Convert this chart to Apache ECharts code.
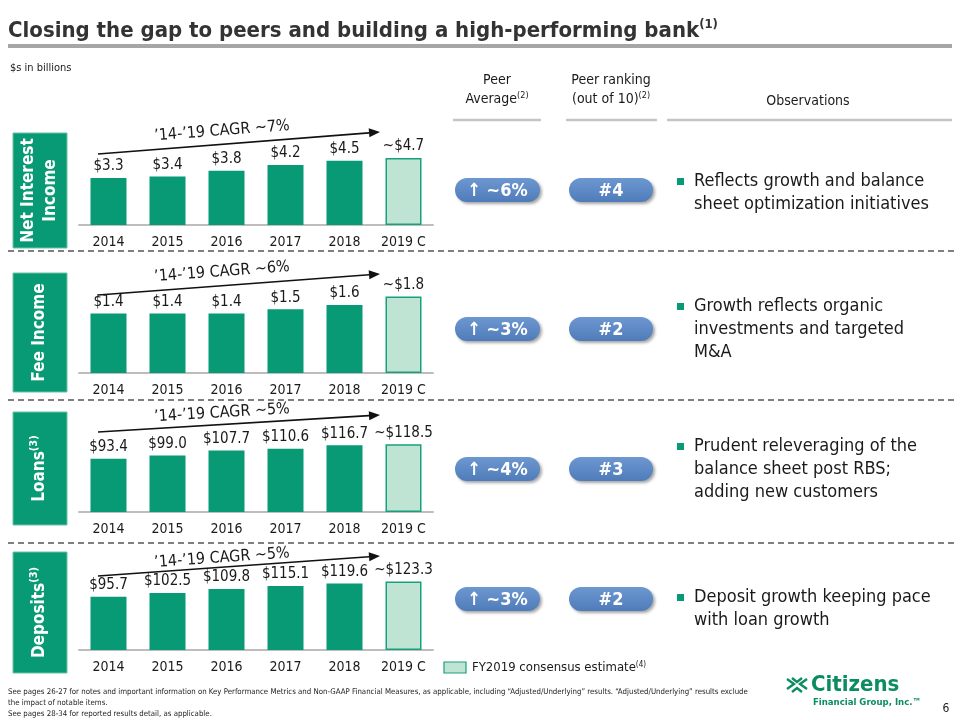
<!DOCTYPE html>
<html><head><meta charset="utf-8">
<script src="https://cdn.jsdelivr.net/npm/echarts@6/dist/echarts.min.js"></script>
<style>html,body{margin:0;padding:0;background:#fff}#c{width:960px;height:720px}</style>
</head><body><div id="c"></div>
<script>
// ---------- DATA ----------
const years = ['2014', '2015', '2016', '2017', '2018', '2019 C'];
const niiValues = [3.3, 3.4, 3.8, 4.2, 4.5, 4.7];
const feeValues = [1.4, 1.4, 1.4, 1.5, 1.6, 1.8];
const loanValues = [93.4, 99.0, 107.7, 110.6, 116.7, 118.5];
const depositValues = [95.7, 102.5, 109.8, 115.1, 119.6, 123.3];
const panelTitles = ['Net Interest\nIncome', 'Fee Income', 'Loans{s|(3)}', 'Deposits{s|(3)}'];
const cagrLabels = ['\u201914-\u201919 CAGR ~7%', '\u201914-\u201919 CAGR ~6%', '\u201914-\u201919 CAGR ~5%', '\u201914-\u201919 CAGR ~5%'];
const peerAverages = ['~6%', '~3%', '~4%', '~3%'];
const peerRanks = ['#4', '#2', '#3', '#2'];
const observations = [
  'Reflects growth and balance\nsheet optimization initiatives',
  'Growth reflects organic\ninvestments and targeted\nM&A',
  'Prudent releveraging of the\nbalance sheet post RBS;\nadding new customers',
  'Deposit growth keeping pace\nwith loan growth'
];
const titleText = 'Closing the gap to peers and building a high-performing bank';
const legendText = 'FY2019 consensus estimate';
const footnotes = [
  'See pages 26-27 for notes and important information on Key Performance Metrics and Non-GAAP Financial Measures, as applicable, including \u201cAdjusted/Underlying\u201d results. \u201cAdjusted/Underlying\u201d results exclude',
  'the impact of notable items.',
  'See pages 28-34 for reported results detail, as applicable.'
];

// ---------- LAYOUT / STYLE ----------
const seriesValues = [niiValues, feeValues, loanValues, depositValues];
const baselines = [225, 373, 512, 650];
const yMaxes = [5.61, 1.88, 140, 144];
const gridH = 80;
const GREEN = '#079a74';
const LIGHT = '#c0e4d4';
const FONT = "'DejaVu Sans Condensed', 'DejaVu Sans', sans-serif";
const boxes = [[133, 248], [273, 392], [412, 525], [552, 673]];
const arrowOff = [[71, 93, 94], [78, 99, 101], [80, 97, 99], [74, 94, 92]];
const pillY = [190, 329, 469, 599];
const obsTop = [170, 295, 435, 586];

const grids = [], xAxes = [], yAxes = [], series = [];
seriesValues.forEach((vals, i) => {
  grids.push({ left: 79, width: 354, top: baselines[i] - gridH, height: gridH });
  xAxes.push({
    type: 'category', gridIndex: i, data: years,
    axisLine: { lineStyle: { color: '#bdbdbd', width: 2 } },
    axisTick: { show: false },
    axisLabel: { margin: 10, fontSize: 14, color: '#1a1a1a', fontFamily: FONT }
  });
  yAxes.push({ type: 'value', gridIndex: i, min: 0, max: yMaxes[i], show: false, splitLine: { show: false } });
  series.push({
    type: 'bar', xAxisIndex: i, yAxisIndex: i, barWidth: 36,
    data: vals.map((v, k) => k === years.length - 1
      ? { value: v, itemStyle: { color: LIGHT, borderColor: '#16a07c', borderWidth: 1.5 } }
      : { value: v }),
    itemStyle: { color: GREEN },
    label: {
      show: true, position: 'top', distance: 4, fontSize: 15, color: '#1a1a1a', fontFamily: FONT,
      formatter: p => (p.dataIndex === years.length - 1 ? '~$' : '$') + p.value.toFixed(1)
    },
    silent: true, animation: false
  });
});

function T(x, y, text, o) {
  o = o || {};
  return {
    type: 'text', x: x, y: y, rotation: o.rotation || 0, silent: true, z: o.z || 10,
    style: {
      text: text, x: 0, y: 0,
      fill: o.fill || '#1a1a1a',
      fontSize: o.size || 14, fontFamily: o.family || FONT, fontWeight: o.weight || 'normal',
      lineHeight: o.lh, align: o.align || 'left', verticalAlign: o.va || 'middle',
      textAlign: o.align || 'left', textVerticalAlign: o.va || 'middle',
      rich: o.rich
    }
  };
}

const g = [];
// Title
g.push(T(8, 31, '{t|' + titleText + '}{s|(1)}', {
  va: 'middle', rich: {
    t: { fontSize: 22, fontWeight: 'bold', fontFamily: FONT, fill: '#333333' },
    s: { fontSize: 13, fontWeight: 'bold', fontFamily: FONT, fill: '#333333', verticalAlign: 'top', padding: [0, 0, 12, 0] }
  }
}));
g.push({ type: 'rect', shape: { x: 8, y: 44, width: 944, height: 4 }, style: { fill: '#a6a6a6' }, silent: true });
g.push(T(10, 68, '$s in billions', { size: 11 }));

// Column headers
const hdrRich = { n: { fontSize: 14, fontFamily: FONT, fill: '#1a1a1a' }, s: { fontSize: 9, fontFamily: FONT, fill: '#1a1a1a', verticalAlign: 'top', padding: [0, 0, 7, 0] } };
g.push(T(497, 80, '{n|Peer}', { align: 'center', rich: hdrRich }));
g.push(T(497, 99, '{n|Average}{s|(2)}', { align: 'center', rich: hdrRich }));
g.push(T(611, 80, '{n|Peer ranking}', { align: 'center', rich: hdrRich }));
g.push(T(611, 99, '{n|(out of 10)}{s|(2)}', { align: 'center', rich: hdrRich }));
g.push(T(808, 101, 'Observations', { align: 'center', size: 14 }));
[[453, 541], [566, 657], [667, 952]].forEach(s => {
  g.push({ type: 'line', shape: { x1: s[0], y1: 120, x2: s[1], y2: 120 }, style: { stroke: '#c4c4c4', lineWidth: 2.5 }, silent: true });
});

// Dashed separators
[251, 400, 543].forEach(y => {
  g.push({ type: 'line', shape: { x1: 8, y1: y, x2: 958, y2: y }, style: { stroke: '#555555', lineWidth: 1.3, lineDash: [6, 4] }, silent: true });
});

const pillGrad = { type: 'linear', x: 0, y: 0, x2: 0, y2: 1, colorStops: [{ offset: 0, color: '#6d97d0' }, { offset: 1, color: '#4f7cb9' }] };
baselines.forEach((B, i) => {
  // left label box
  const b = boxes[i];
  g.push({ type: 'rect', shape: { x: 13, y: b[0], width: 54, height: b[1] - b[0] }, style: { fill: GREEN, stroke: '#6cc3a4', lineWidth: 1 }, silent: true });
  g.push(T(40, (b[0] + b[1]) / 2, panelTitles[i], {
    rotation: Math.PI / 2, align: 'center', va: 'middle', size: 17, weight: 'bold', fill: '#ffffff', lh: 22,
    rich: { s: { fontSize: 11, fontWeight: 'bold', fontFamily: FONT, fill: '#ffffff', verticalAlign: 'top', padding: [0, 0, 8, 0] } }
  }));
  // CAGR arrow
  const a = arrowOff[i];
  const x1 = 98, y1 = B - a[0], x2 = 380, y2 = B - a[1];
  const ang = Math.atan2(y2 - y1, x2 - x1);
  const L = 11, W = 4.5;
  const bx = x2 - L * Math.cos(ang), by = y2 - L * Math.sin(ang);
  g.push({ type: 'line', shape: { x1: x1, y1: y1, x2: bx, y2: by }, style: { stroke: '#111', lineWidth: 1.6 }, silent: true });
  g.push({ type: 'polygon', shape: { points: [[x2, y2], [bx + W * Math.sin(ang), by - W * Math.cos(ang)], [bx - W * Math.sin(ang), by + W * Math.cos(ang)]] }, style: { fill: '#111' }, silent: true });
  g.push(T(222, B - a[2], cagrLabels[i], { align: 'center', size: 16, rotation: -ang }));
  // pills
  const py = pillY[i];
  [[455, 540, '\u2191 ' + peerAverages[i]], [569, 653, peerRanks[i]]].forEach(p => {
    g.push({ type: 'rect', shape: { x: p[0], y: py - 12, width: p[1] - p[0], height: 24, r: 12 },
      style: { fill: pillGrad, shadowBlur: 3, shadowOffsetX: 2, shadowOffsetY: 2, shadowColor: 'rgba(0,0,0,0.35)' }, silent: true });
    g.push(T((p[0] + p[1]) / 2, py + 1, p[2], { align: 'center', size: 18, weight: 'bold', fill: '#ffffff', z: 11 }));
  });
  // observations
  g.push({ type: 'rect', shape: { x: 677, y: obsTop[i] + 8, width: 7, height: 7 }, style: { fill: GREEN }, silent: true });
  g.push(T(694, obsTop[i], observations[i], { va: 'top', size: 18, lh: 23 }));
});

// Legend
g.push({ type: 'rect', shape: { x: 444, y: 662, width: 22, height: 11 }, style: { fill: LIGHT, stroke: '#16a07c', lineWidth: 1.2 }, silent: true });
g.push(T(472, 668, '{n|' + legendText + '}{s|(4)}', {
  rich: { n: { fontSize: 13, fontFamily: FONT, fill: '#1a1a1a' }, s: { fontSize: 8, fontFamily: FONT, fill: '#1a1a1a', verticalAlign: 'top', padding: [0, 0, 6, 0] } }
}));

// Footnotes
footnotes.forEach((t, k) => g.push(T(8, 692 + k * 11, t, { size: 7.8, fill: '#222' })));

// Logo
const LG = '#0b8c62';
const cx = 797, cy = 685;
[[[-10, -6], [-3, -1], [-10, 4]], [[10, -6], [3, -1], [10, 4]], [[-5, -7], [0, -3], [5, -7]], [[-5, 7], [0, 3], [5, 7]]].forEach(pts => {
  g.push({ type: 'polyline', shape: { points: pts.map(p => [cx + p[0], cy + p[1]]) }, style: { stroke: LG, lineWidth: 2.4, fill: null }, silent: true });
});
g.push(T(811, 685, 'Citizens', { size: 22, weight: 'bold', fill: LG }));
g.push(T(813, 703, 'Financial Group, Inc.\u2122', { size: 9.5, weight: 'bold', fill: LG }));
g.push(T(946, 709, '6', { size: 12, align: 'center' }));

const chart = echarts.init(document.getElementById('c'), null, { renderer: 'canvas' });
chart.setOption({
  backgroundColor: '#ffffff', animation: false,
  grid: grids, xAxis: xAxes, yAxis: yAxes, series: series, graphic: g
});
</script></body></html>
